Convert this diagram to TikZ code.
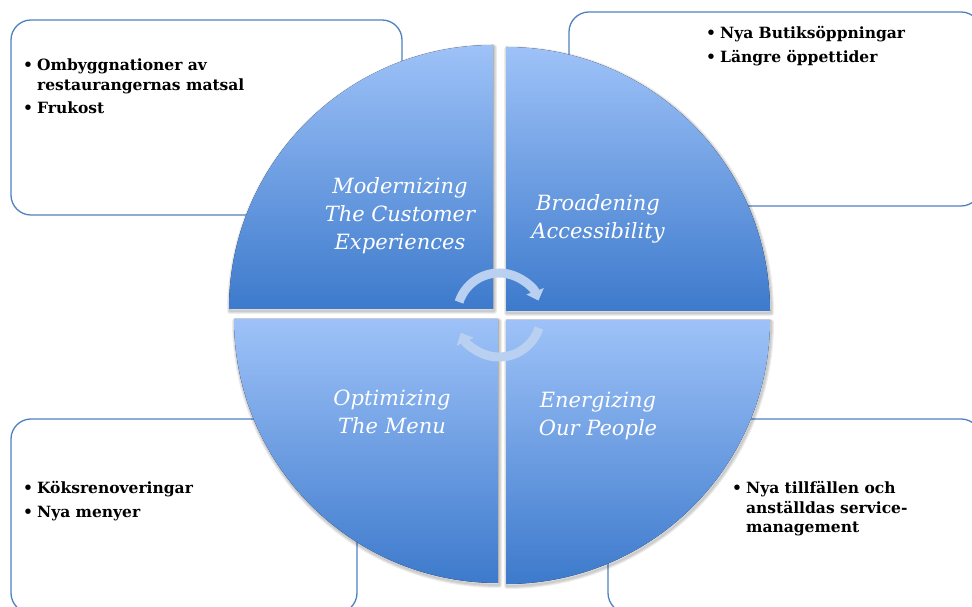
\documentclass[tikz,border=0pt]{standalone}
\usepackage{fontspec}
\setmainfont{DejaVu Serif}
\usetikzlibrary{arrows.meta}
\definecolor{pietop}{RGB}{158,194,248}
\definecolor{piebottom}{RGB}{61,122,204}
\definecolor{panelline}{RGB}{79,129,193}
\definecolor{cyclecolor}{RGB}{186,208,241}

\tikzset{
  panel/.style={draw=panelline, line width=1.3pt, rounded corners=20pt, inner sep=0pt, outer sep=0pt},
  bullets/.style={font=\bfseries\fontsize{15.5}{19.5}\selectfont, anchor=base west, inner sep=0pt},
  pielabel/.style={font=\itshape\fontsize{21}{28}\selectfont, text=white, align=center},
  cycle arrow/.style={cyclecolor, line width=9pt, -{Triangle[length=10pt,width=18pt]}}
}

\begin{document}
\begin{tikzpicture}[x=1pt, y=1pt]
    \useasboundingbox (0,0) rectangle (972,607);
    \clip (0,0) rectangle (972,607);

    % Panels behind the wheel
    \node[panel, minimum width=391pt, minimum height=195pt] (boxModern) at (206.5,489.5) {};
    \node[panel, minimum width=412pt, minimum height=194pt] (boxBroad) at (775,498) {};
    \node[panel, minimum width=346pt, minimum height=194pt] (boxMenu) at (184,91) {};
    \node[panel, minimum width=373pt, minimum height=194pt] (boxPeople) at (794.5,91) {};

    % Soft shadow under the four quarters
    \foreach \cx/\cy/\a in {493/298/90, 506/296/0, 498/288/180, 506/287/270} {
        \foreach \w in {2,4,6}
            \draw[black, opacity=.07, line width=\w pt, line join=round]
                (\cx+1,\cy-2) -- ++(\a:264) arc (\a:\a+90:264) -- cycle;
    }

    % Quarters of the wheel
    \foreach \cx/\cy/\a in {493/298/90, 506/296/0, 498/288/180, 506/287/270} {
        \fill[top color=pietop, bottom color=piebottom]
            (\cx,\cy) -- ++(\a:264) arc (\a:\a+90:264) -- cycle;
    }

    % Labels on the wheel
    \node[pielabel] (modern) at (400,391) {Modernizing\\The Customer\\Experiences};
    \node[pielabel] (broad) at (598,388) {Broadening\\Accessibility};
    \node[pielabel] (menu) at (392,195) {Optimizing\\The Menu};
    \node[pielabel] (people) at (598,191) {Energizing\\Our People};

    % Cycle arrows in the hub
    \coordinate (hub) at (499,292);
    \draw[cycle arrow] (hub) ++(162:42) arc (162:20:42);
    \draw[cycle arrow] (hub) ++(-18:42) arc (-18:-155:42);

    % Bullet lists
    \node[bullets] (listModern) at (23,536) {\begin{tabular}[t]{@{}l@{\hspace{4pt}}l@{}}
        •&Ombyggnationer av\\
         &restaurangernas matsal\\[4pt]
        •&Frukost
    \end{tabular}};
    \node[bullets] (listBroad) at (706,568) {\begin{tabular}[t]{@{}l@{\hspace{4pt}}l@{}}
        •&Nya Butiksöppningar\\[4pt]
        •&Längre öppettider
    \end{tabular}};
    \node[bullets] (listMenu) at (23,113) {\begin{tabular}[t]{@{}l@{\hspace{4pt}}l@{}}
        •&Köksrenoveringar\\[4pt]
        •&Nya menyer
    \end{tabular}};
    \node[bullets] (listPeople) at (732,113) {\begin{tabular}[t]{@{}l@{\hspace{4pt}}l@{}}
        •&Nya tillfällen och\\
         &anställdas service-\\
         &management
    \end{tabular}};
\end{tikzpicture}
\end{document}
